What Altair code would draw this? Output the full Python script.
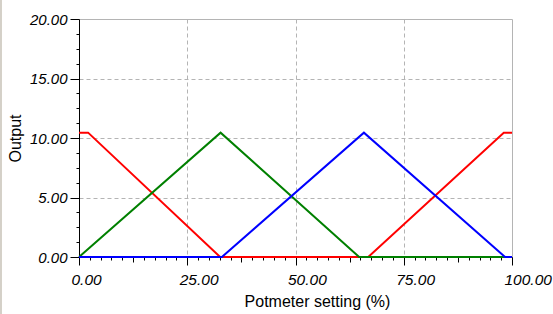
import altair as alt
import pandas as pd

# ---- data ----
series_names = ["Red", "Green", "Blue"]
series_colors = ["#ff0000", "#008000", "#0000ff"]

red_x = [0, 2.1, 32.6, 66.8, 98.1, 100]
red_y = [10.45, 10.45, 0, 0, 10.45, 10.45]
green_x = [0, 32.7, 64.7, 100]
green_y = [0, 10.45, 0, 0]
blue_x = [0, 33.0, 65.8, 98.4, 100]
blue_y = [0, 0, 10.45, 0, 0]

x_major = [0, 25, 50, 75, 100]
x_mid = [12.5, 37.5, 62.5, 87.5]
x_minor = [2.5 * i for i in range(41) if (2.5 * i) % 12.5 != 0]
x_grid = [25, 50, 75]
y_major = [0, 5, 10, 15, 20]
y_minor = [1.25 * i for i in range(17) if (1.25 * i) % 5 != 0]
y_grid = [5, 10, 15]

rows = []
for name, xs_, ys_ in zip(series_names, [red_x, green_x, blue_x], [red_y, green_y, blue_y]):
    for i, (xv, yv) in enumerate(zip(xs_, ys_)):
        rows.append({"series": name, "x": xv, "y": yv, "order": i})
df = pd.DataFrame(rows)

FONT = "Liberation Sans"
xs = alt.Scale(domain=[0, 100], nice=False, zero=False)
ys = alt.Scale(domain=[0, 20], nice=False)
cs = alt.Scale(domain=series_names, range=series_colors)


def layer(xaxis, yaxis, opacity=1.0):
    return alt.Chart(df).mark_line(strokeWidth=2, opacity=opacity).encode(
        x=alt.X("x:Q", scale=xs, axis=xaxis),
        y=alt.Y("y:Q", scale=ys, axis=yaxis),
        color=alt.Color("series:N", scale=cs, legend=None),
        detail="series:N",
        order="order:Q",
    )


hidden = dict(labels=False, domain=False, title=None, zindex=0)

grid_layer = layer(
    alt.Axis(orient="bottom", values=x_grid, grid=True, gridDash=[4, 3], gridColor="#b4b4b4", ticks=False, **hidden),
    alt.Axis(orient="left", values=y_grid, grid=True, gridDash=[4, 3], gridColor="#b4b4b4", ticks=False, **hidden),
    opacity=0,
)
minor_layer = layer(
    alt.Axis(orient="bottom", values=x_minor, grid=False, tickSize=3, tickColor="black", **hidden),
    alt.Axis(orient="left", values=y_minor, grid=False, tickSize=3, tickColor="black", **hidden),
    opacity=0,
)
mid_layer = layer(
    alt.Axis(orient="bottom", values=x_mid, grid=False, tickSize=5, tickColor="black", **hidden),
    None,
    opacity=0,
)
main_layer = layer(
    alt.Axis(
        orient="bottom", zindex=0,
        values=x_major, format=".2f", grid=False, tickSize=8, tickColor="black",
        domainColor="black", labelAlign="left", labelOffset=-8, labelBaseline="alphabetic",
        labelPadding=19, labelFont=FONT, labelFontSize=15.5, labelFontStyle="italic",
        labelColor="black", labelFlush=False, labelOverlap=False,
        title="Potmeter setting (%)", titleFont=FONT, titleFontSize=16, titleFontWeight="normal",
        titleColor="black", titleX=238, titleY=49, titleAlign="center", titleBaseline="alphabetic",
    ),
    alt.Axis(
        orient="left", zindex=0,
        values=y_major, format=".2f", grid=False, tickSize=9, tickColor="black",
        domainColor="black", labelPadding=3, labelFont=FONT, labelFontSize=15,
        labelFontStyle="italic", labelColor="black", labelBaseline="middle", labelOverlap=False,
        title="Output", titleFont=FONT, titleFontSize=16, titleFontWeight="normal",
        titleColor="black", titleAngle=270, titleX=-59, titleY=119, titleAlign="center",
        titleBaseline="alphabetic",
    ),
)
edge = alt.Chart(df).mark_rule(color="#d4d0c8", strokeWidth=1.5).encode(
    x=alt.value(-78.3), y=alt.value(-19), y2=alt.value(295)
)

chart = (
    alt.layer(grid_layer, minor_layer, mid_layer, main_layer, edge)
    .resolve_axis(x="independent", y="independent")
    .properties(
        width=433, height=238,
        padding={"left": 79, "top": 19, "right": 41, "bottom": 57},
        autosize=alt.AutoSizeParams(type="none"),
        background="white",
    )
    .configure_view(stroke="#b4b4b4", strokeWidth=1)
)

chart.save("out.html", embed_options={"renderer": "svg", "actions": False})
